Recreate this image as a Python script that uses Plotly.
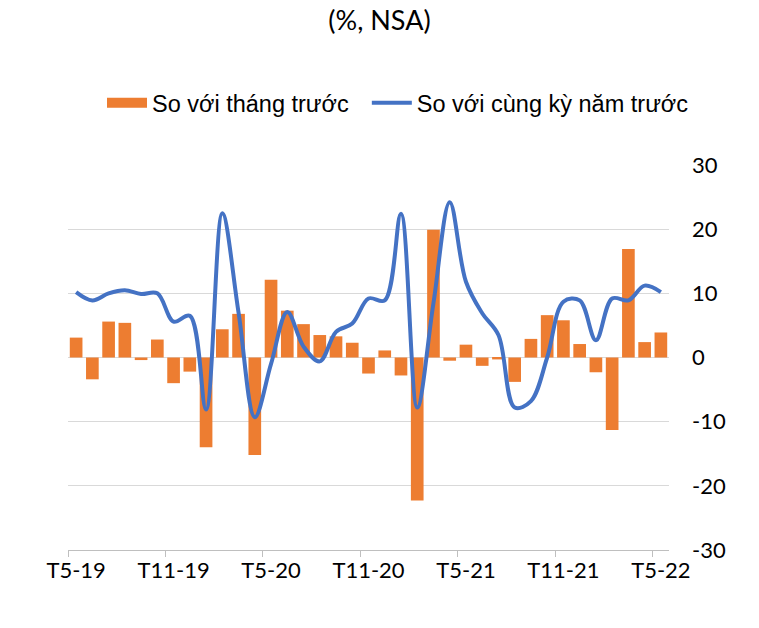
import plotly.graph_objects as go

months = ["T5-19", "T6-19", "T7-19", "T8-19", "T9-19", "T10-19", "T11-19", "T12-19",
          "T1-20", "T2-20", "T3-20", "T4-20", "T5-20", "T6-20", "T7-20", "T8-20",
          "T9-20", "T10-20", "T11-20", "T12-20", "T1-21", "T2-21", "T3-21", "T4-21",
          "T5-21", "T6-21", "T7-21", "T8-21", "T9-21", "T10-21", "T11-21", "T12-21",
          "T1-22", "T2-22", "T3-22", "T4-22", "T5-22"]

mom = [3.1, -3.4, 5.6, 5.4, -0.4, 2.8, -4.0, -2.2, -14.0, 4.4, 6.8, -15.2, 12.1,
       7.3, 5.2, 3.5, 3.3, 2.3, -2.5, 1.1, -2.8, -22.3, 19.9, -0.5, 2.0, -1.3,
       -0.3, -3.8, 2.9, 6.6, 5.8, 2.1, -2.3, -11.3, 16.9, 2.4, 3.9]

yoy = [10.2, 8.9, 10.0, 10.5, 9.9, 10.0, 5.6, 6.5, -8.1, 22.5, 7.0, -9.3, -1.0,
       7.1, 1.7, -0.6, 4.0, 5.3, 9.2, 8.9, 22.4, -7.8, 8.5, 24.2, 11.8, 6.9,
       3.5, -7.8, -6.8, 0.0, 8.7, 8.9, 2.7, 9.2, 8.9, 11.2, 10.2]

y_ticks = [30, 20, 10, 0, -10, -20, -30]
y_tick_text = ["30", "20", "10", "0", "-10", "-20", "-30"]

BAR_COLOR = "#ED7D31"
LINE_COLOR = "#4472C4"

W, H = 759, 628
ML, MR, MT, MB = 68, 90, 165, 78

fig = go.Figure()
fig.add_trace(go.Bar(
    x=months, y=mom, name="So với tháng trước", showlegend=False,
    marker=dict(color=BAR_COLOR, line=dict(width=0)),
))
fig.add_trace(go.Scatter(
    x=months, y=yoy, name="So với cùng kỳ năm trước", mode="lines",
    line=dict(color=LINE_COLOR, width=4, shape="spline", smoothing=1.0),
    legendrank=2,
))
# legend-only proxy for the bar series (wide rectangle swatch)
fig.add_trace(go.Scatter(
    x=[None], y=[None], name="So với tháng trước\u00a0\u00a0", mode="lines",
    line=dict(color=BAR_COLOR, width=12), legendrank=1, hoverinfo="skip",
))

fig.update_layout(
    width=W, height=H,
    margin=dict(l=ML, r=MR, t=MT, b=MB, autoexpand=False),
    paper_bgcolor="white", plot_bgcolor="white",
    bargap=0.22,
    showlegend=True,
    title=dict(text="(%, NSA)", x=0.5, xref="container", xanchor="center",
               y=1 - 21 / H, yref="container", yanchor="middle",
               font=dict(family="Lato, Open Sans, sans-serif", size=27, color="#000000")),
    legend=dict(orientation="h", x=398 / W, xref="container", xanchor="center",
                y=1 - 103 / H, yref="container", yanchor="middle",
                font=dict(family="Liberation Sans, Arial, sans-serif", size=23.5, color="#000000"),
                itemwidth=40),
    xaxis=dict(type="category", range=[-0.5, 36.5],
               tickmode="linear", tick0=0, dtick=6, tickson="boundaries",
               tickangle=0, automargin=False,
               ticks="outside", ticklen=6, tickcolor="#BFBFBF", tickwidth=1.3,
               showline=True, linecolor="#BFBFBF", linewidth=1.3,
               showgrid=False, zeroline=False,
               tickfont=dict(family="Lato, Open Sans, sans-serif", size=22, color="#000000")),
    yaxis=dict(range=[-30, 30], tickvals=y_ticks, ticktext=y_tick_text,
               side="right", automargin=False, ticklabelstandoff=22,
               showline=False, ticks="",
               showgrid=True, gridcolor="#D9D9D9", gridwidth=1.3,
               zeroline=True, zerolinecolor="#D9D9D9", zerolinewidth=1.3,
               tickfont=dict(family="Lato, Open Sans, sans-serif", size=22, color="#000000")),
)

fig.write_html("out.html")
